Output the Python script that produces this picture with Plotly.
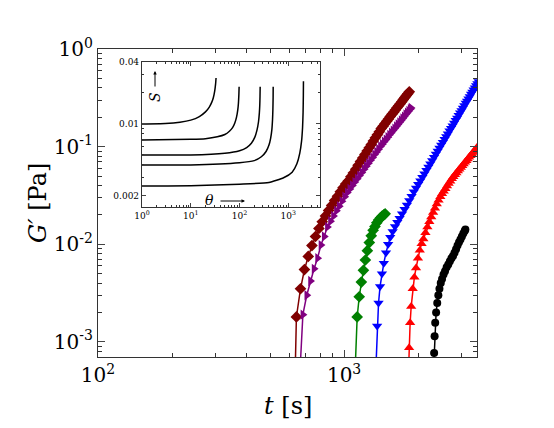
import plotly.graph_objects as go

# ---------------- main data: G' [Pa] vs t [s] ----------------
t_maroon = [630, 640, 665, 690, 715, 740, 765, 790, 815, 840, 865, 890, 915, 940, 965, 990, 1015,
            1040, 1065, 1090, 1115, 1140, 1165, 1190, 1215, 1240, 1265, 1290, 1315, 1340, 1365, 1390,
            1415, 1440, 1465, 1490, 1515, 1540, 1565, 1590, 1615, 1640, 1665, 1690, 1715, 1740, 1765,
            1790, 1815, 1840]
g_maroon = [0.0003, 0.0018, 0.0035, 0.0055, 0.0075, 0.0097, 0.0120, 0.0145, 0.0170, 0.0195, 0.0222,
            0.025, 0.028, 0.031, 0.0345, 0.038, 0.0415,
            0.0445, 0.049, 0.0537, 0.0588, 0.0643, 0.0703, 0.0763, 0.083, 0.090, 0.0975, 0.105, 0.114,
            0.123, 0.132, 0.142,
            0.153, 0.162, 0.172, 0.182, 0.192, 0.203, 0.214, 0.225, 0.237, 0.250, 0.262, 0.275, 0.289,
            0.303, 0.318, 0.333, 0.348, 0.364]

t_purple = [655, 680, 705, 730, 755, 780, 805, 830, 855, 880, 905, 930, 955, 980, 1005, 1030,
            1055, 1080, 1105, 1130, 1155, 1180, 1205, 1230, 1255, 1280, 1305, 1330, 1355, 1380, 1405,
            1430, 1455, 1480, 1505, 1530, 1555, 1580, 1605, 1630, 1655, 1680, 1705, 1730, 1755, 1780,
            1805, 1830, 1855, 1870]
g_purple = [0.0003, 0.0019, 0.0030, 0.0042, 0.0056, 0.0072, 0.0098, 0.0120, 0.0150, 0.0172, 0.0195,
            0.022, 0.0245, 0.0275, 0.0307, 0.0338,
            0.0368, 0.040, 0.0433, 0.0468, 0.0505, 0.0544, 0.0586, 0.063, 0.0675, 0.0724, 0.0775,
            0.0828, 0.0882, 0.094, 0.1004,
            0.106, 0.112, 0.118, 0.125, 0.132, 0.139, 0.146, 0.153, 0.161, 0.169, 0.177, 0.185, 0.194,
            0.203, 0.213, 0.222, 0.232, 0.242, 0.249]

t_green = [1100, 1130, 1152, 1175, 1198, 1220, 1243, 1266, 1289, 1312, 1335, 1358, 1381, 1404, 1427,
           1450, 1468]
g_green = [0.0003, 0.0018, 0.0029, 0.0041, 0.0054, 0.0069, 0.0086, 0.0104, 0.0122, 0.0139, 0.0152,
           0.0166, 0.0177, 0.0186, 0.0194, 0.0200, 0.0205]

t_blue = [1340, 1362, 1380, 1400, 1425, 1450, 1480, 1510, 1540, 1575, 1610, 1645, 1680, 1720, 1760,
          1800, 1840, 1880, 1920, 1960, 2000, 2040, 2080, 2120, 2160, 2200, 2240, 2280, 2320, 2360,
          2400, 2440, 2480, 2520, 2560, 2600, 2640, 2680, 2720, 2760, 2800, 2840, 2880, 2920, 2960,
          3000, 3040, 3080, 3120, 3160, 3200, 3240, 3280, 3320, 3360, 3400, 3440, 3480, 3520]
g_blue = [0.0004, 0.00145, 0.0025, 0.0037, 0.0050, 0.0064, 0.0082, 0.0100, 0.0118, 0.0135, 0.0152,
          0.0168, 0.0185, 0.0205, 0.0228, 0.0253, 0.0280, 0.0310, 0.0345, 0.0377, 0.0411, 0.0448,
          0.0487, 0.0528, 0.0572, 0.0619, 0.0669, 0.0722, 0.0779, 0.0838, 0.0901, 0.0967, 0.1037,
          0.111, 0.119, 0.127, 0.1355, 0.145, 0.154, 0.164, 0.175, 0.186, 0.197, 0.209, 0.222, 0.235,
          0.249, 0.264, 0.279, 0.294, 0.310, 0.327, 0.345, 0.363, 0.382, 0.402, 0.422, 0.443, 0.465]

t_red = [1815, 1837, 1855, 1873, 1900, 1930, 1960, 1995, 2030, 2065, 2100, 2140, 2180, 2220, 2260,
         2300, 2340, 2380, 2420, 2460, 2500, 2540, 2580, 2620, 2660, 2700, 2740, 2780, 2820, 2860,
         2900, 2940, 2980, 3020, 3060, 3100, 3140, 3180, 3220, 3260, 3300, 3340, 3380, 3420, 3460,
         3500]
g_red = [0.0003, 0.00087, 0.00157, 0.0023, 0.0035, 0.0046, 0.0057, 0.0072, 0.0087, 0.0101, 0.0113,
         0.0131, 0.0150, 0.0170, 0.0190, 0.0212, 0.0234, 0.0258, 0.0282, 0.0306, 0.0329, 0.0349,
         0.0371, 0.0394, 0.0418, 0.0443, 0.0470, 0.0492, 0.0515, 0.0538, 0.0562, 0.0586, 0.0611,
         0.0637, 0.0663, 0.0690, 0.0718, 0.0747, 0.0777, 0.0807, 0.0838, 0.0870, 0.0903, 0.0936,
         0.0971, 0.1006]

t_black = [2300, 2322, 2332, 2345, 2365, 2390, 2415, 2440, 2470, 2500, 2535, 2570, 2610, 2650, 2690,
           2730, 2770, 2810, 2850, 2890, 2930, 2970, 3010, 3050, 3090, 3110]
g_black = [0.0004, 0.00077, 0.00114, 0.00157, 0.0020, 0.0025, 0.0030, 0.0035, 0.0040, 0.0044,
           0.0049, 0.0053, 0.0058, 0.0062, 0.0067, 0.0072, 0.0076, 0.0082, 0.0089, 0.0097, 0.0105,
           0.0112, 0.0120, 0.0129, 0.0137, 0.0142]

# ---------------- inset data: S vs theta ----------------
th1 = [1, 3, 6, 10, 15, 20, 24, 27, 29, 31, 32.3, 33]
s1 = [0.0100, 0.0101, 0.0104, 0.0109, 0.0118, 0.0131, 0.0146, 0.0163, 0.0180, 0.0210, 0.0245, 0.028]
th2 = [1, 10, 20, 35, 50, 62, 72, 80, 87, 92, 95, 97, 98]
s2 = [0.0070, 0.0071, 0.0072, 0.0075, 0.0079, 0.0085, 0.0092, 0.0102, 0.0117, 0.0137, 0.0160, 0.0195, 0.023]
th3 = [1, 10, 50, 100, 140, 175, 205, 228, 245, 255, 260, 263, 265]
s3 = [0.0050, 0.0050, 0.0052, 0.0055, 0.0059, 0.0065, 0.0074, 0.0087, 0.0105, 0.0128, 0.0152, 0.0185, 0.023]
th4 = [1, 10, 100, 200, 280, 350, 400, 435, 460, 475, 483, 488, 490]
s4 = [0.0040, 0.0040, 0.0042, 0.0044, 0.0048, 0.0054, 0.0062, 0.0073, 0.0088, 0.0110, 0.0138, 0.0180, 0.023]
th5 = [1, 10, 100, 400, 800, 1200, 1500, 1720, 1870, 1960, 2010, 2035, 2045]
s5 = [0.0025, 0.00251, 0.0026, 0.0027, 0.0030, 0.0034, 0.0041, 0.0052, 0.0068, 0.0092, 0.0130, 0.0190, 0.026]

main_xtickvals = [100, 1000]
main_xticktext = ["10<sup>2</sup>", "10<sup>3</sup>"]
main_ytickvals = [1, 0.1, 0.01, 0.001]
main_yticktext = ["10<sup>0</sup>", "10<sup>-1</sup>", "10<sup>-2</sup>", "10<sup>-3</sup>"]
inset_xtickvals = [1, 10, 100, 1000]
inset_xticktext = ["10<sup>0</sup>", "10<sup>1</sup>", "10<sup>2</sup>", "10<sup>3</sup>"]
inset_ytickvals = [0.04, 0.01, 0.002]
inset_yticktext = ["0.04", "0.01", "0.002"]

FONT = "DejaVu Serif"

fig = go.Figure()

series = [
    (t_maroon, g_maroon, "#800000", "diamond", 9),
    (t_purple, g_purple, "#800080", "triangle-right", 9),
    (t_green, g_green, "#008000", "diamond", 9),
    (t_blue, g_blue, "#0000ff", "triangle-down", 9),
    (t_red, g_red, "#ff0000", "triangle-up", 9),
    (t_black, g_black, "#000000", "circle", 8),
]
for t, g, c, sym, sz in series:
    fig.add_trace(go.Scatter(x=t, y=g, mode="lines+markers",
                             line=dict(color=c, width=1.5),
                             marker=dict(color=c, symbol=sym, size=sz, line=dict(width=0)),
                             showlegend=False, xaxis="x", yaxis="y"))

for th, s in [(th1, s1), (th2, s2), (th3, s3), (th4, s4), (th5, s5)]:
    fig.add_trace(go.Scatter(x=th, y=s, mode="lines",
                             line=dict(color="black", width=1.5, shape="spline", smoothing=0.5),
                             showlegend=False, xaxis="x2", yaxis="y2"))

# page geometry (the page body adds an 8 px margin)
OFF = 8
W, H = 554 - OFF, 428 - OFF
L, R, T, B = 98 - OFF, 477 - OFF, 49 - OFF, 357 - OFF


def px(x):
    return (x - OFF - L) / (R - L)


def py(y):
    return (B - (y - OFF)) / (B - T)


axis_common = dict(showline=True, linecolor="#333", linewidth=1.2, mirror="ticks",
                   ticks="inside", showgrid=False, zeroline=False)

arrow_style = dict(showarrow=True, text="", arrowhead=2, arrowsize=0.7, arrowwidth=1,
                   arrowcolor="black", xref="paper", yref="paper", axref="pixel", ayref="pixel")

fig.update_layout(
    width=W, height=H,
    margin=dict(l=L, r=W - R, t=T, b=H - B, autoexpand=False),
    paper_bgcolor="white", plot_bgcolor="white",
    font=dict(family=FONT, color="black"),
    xaxis=dict(type="log", range=[2, 3.54], tickvals=main_xtickvals, ticktext=main_xticktext,
               ticklen=7, tickfont=dict(size=20, family=FONT),
               minor=dict(ticks="inside", ticklen=4, tickcolor="#333",
                          tickvals=[200, 300, 400, 500, 600, 700, 800, 900, 2000, 3000]),
               **axis_common),
    yaxis=dict(type="log", range=[-3.155, 0], tickvals=main_ytickvals, ticktext=main_yticktext,
               ticklen=7, tickfont=dict(size=20, family=FONT),
               minor=dict(ticks="inside", ticklen=4, tickcolor="#333",
                          tickvals=[m * 10.0 ** e for e in (-4, -3, -2, -1) for m in range(2, 10)]),
               **axis_common),
    xaxis2=dict(type="log", range=[0, 3.65], domain=[px(142), px(320)], anchor="y2",
                tickvals=inset_xtickvals, ticktext=inset_xticktext, ticklen=4,
                tickfont=dict(size=9, family=FONT),
                minor=dict(ticks="inside", ticklen=2, tickcolor="#333",
                           tickvals=[m * 10.0 ** e for e in (0, 1, 2, 3) for m in range(2, 10)]),
                **axis_common),
    yaxis2=dict(type="log", range=[-2.807, -1.398], domain=[py(207), py(62)], anchor="x2",
                tickvals=inset_ytickvals, ticktext=inset_yticktext, ticklen=4,
                tickfont=dict(size=9, family=FONT),
                minor=dict(ticks="inside", ticklen=2, tickcolor="#333",
                           tickvals=[0.002, 0.003, 0.004, 0.005, 0.006, 0.007, 0.008, 0.009,
                                     0.02, 0.03]),
                **axis_common),
    shapes=[dict(type="rect", xref="paper", yref="paper", x0=px(142), x1=px(320), y0=py(207), y1=py(62),
                 fillcolor="white", line=dict(width=0), layer="below")],
    annotations=[
        dict(text="<i>t</i> [s]", xref="paper", yref="paper", x=px(288), y=py(406),
             showarrow=False, font=dict(size=24, family=FONT), xanchor="center", yanchor="middle"),
        dict(text="<i>G′</i> [Pa]", xref="paper", yref="paper", x=px(38), y=py(203),
             showarrow=False, textangle=-90, font=dict(size=24, family=FONT),
             xanchor="center", yanchor="middle"),
        dict(text="<i>S</i>", xref="paper", yref="paper", x=px(155), y=py(97),
             showarrow=False, textangle=-90, font=dict(size=14, family=FONT),
             xanchor="center", yanchor="middle"),
        dict(x=px(155), y=py(71), ax=0, ay=17, **arrow_style),
        dict(text="<i>θ</i>", xref="paper", yref="paper", x=px(209), y=py(200),
             showarrow=False, font=dict(size=14, family=FONT),
             xanchor="center", yanchor="middle"),
        dict(x=px(245), y=py(201), ax=-26, ay=0, **arrow_style),
    ],
)

fig.write_html("out.html")
